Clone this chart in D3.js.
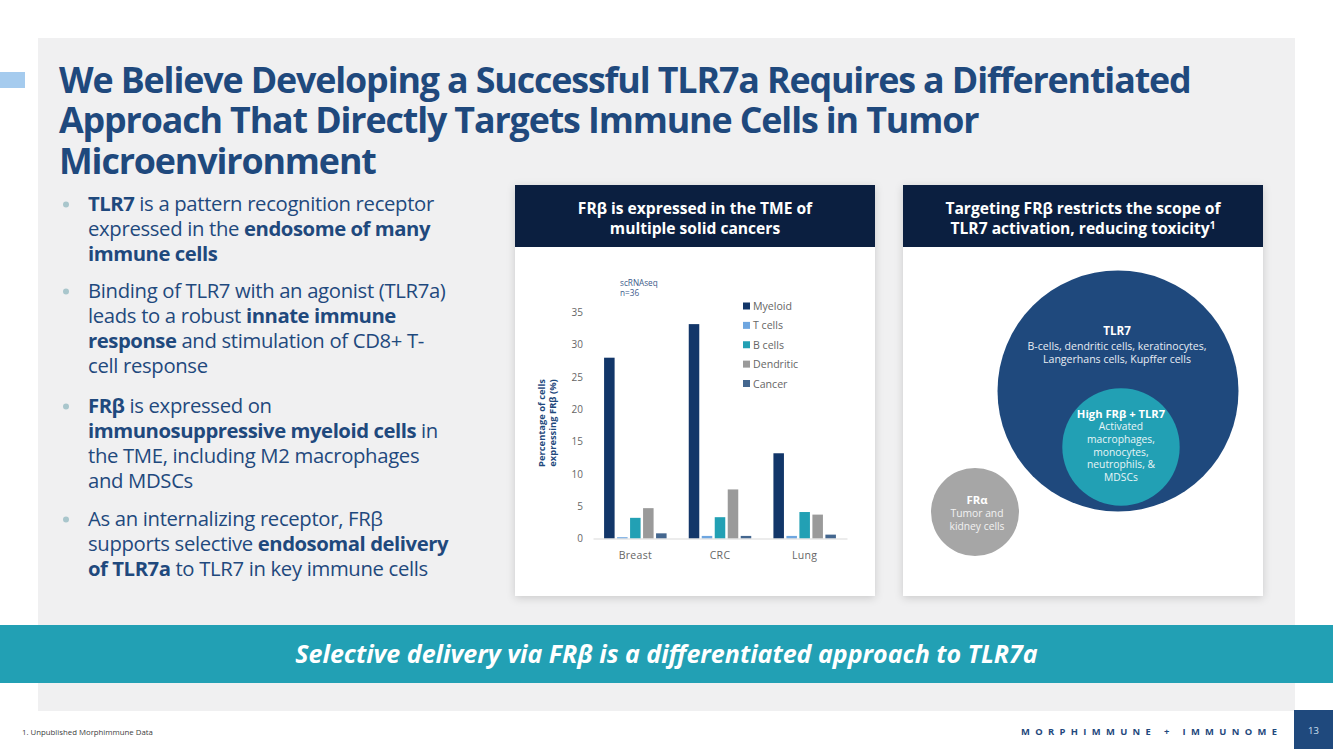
<!DOCTYPE html>
<html>
<head>
<meta charset="utf-8">
<script src="https://cdn.jsdelivr.net/npm/d3@7"></script>
<style>
html, body { margin: 0; padding: 0; background: #fff; overflow: hidden; }
text { font-family: "Open Sans", "Noto Sans", sans-serif; }
</style>
</head>
<body>
<svg id="slide" width="1333" height="749"></svg>
<script>
var categories = ["Breast", "CRC", "Lung"];
var seriesNames = ["Myeloid", "T cells", "B cells", "Dendritic", "Cancer"];
var seriesColors = ["#123669", "#6ea6e0", "#22a0b4", "#9a9a9a", "#44678f"];
var breastValues = [28, 0.2, 3.2, 4.7, 0.8];
var crcValues = [33.2, 0.4, 3.3, 7.6, 0.4];
var lungValues = [13.2, 0.4, 4.1, 3.7, 0.6];
var yTicks = [0, 5, 10, 15, 20, 25, 30, 35];

var titleLines = [
  "We Believe Developing a Successful TLR7a Requires a Differentiated",
  "Approach That Directly Targets Immune Cells in Tumor",
  "Microenvironment"
];

// each line is a list of [text, bold]
var bullets = [
  { y: 204, lines: [
    [["TLR7", 1], [" is a pattern recognition receptor", 0]],
    [["expressed in the ", 0], ["endosome of many", 1]],
    [["immune cells", 1]]
  ]},
  { y: 291, lines: [
    [["Binding of TLR7 with an agonist (TLR7a)", 0]],
    [["leads to a robust ", 0], ["innate immune", 1]],
    [["response", 1], [" and stimulation of CD8+ T-", 0]],
    [["cell response", 0]]
  ]},
  { y: 406, lines: [
    [["FRβ", 1], [" is expressed on", 0]],
    [["immunosuppressive myeloid cells", 1], [" in", 0]],
    [["the TME, including M2 macrophages", 0]],
    [["and MDSCs", 0]]
  ]},
  { y: 519, lines: [
    [["As an internalizing receptor, FRβ", 0]],
    [["supports selective ", 0], ["endosomal delivery", 1]],
    [["of TLR7a", 1], [" to TLR7 in key immune cells", 0]]
  ]}
];

var svg = d3.select("#slide");
var navy = "#1f497d";
var teal = "#22a0b4";
var headerDark = "#0b1f40";

var defs = svg.append("defs");
var shadow = defs.append("filter").attr("id", "shadow")
  .attr("x", "-5%").attr("y", "-5%").attr("width", "110%").attr("height", "110%");
shadow.append("feDropShadow").attr("dx", 0).attr("dy", 2).attr("stdDeviation", 4)
  .attr("flood-color", "#000").attr("flood-opacity", 0.16);

function rect(x, y, w, h, fill) {
  return svg.append("rect").attr("x", x).attr("y", y).attr("width", w).attr("height", h).attr("fill", fill);
}

function label(parent, x, y, str, size, fill, weight, anchor) {
  return parent.append("text").attr("x", x).attr("y", y).text(str)
    .attr("font-size", size).attr("fill", fill)
    .attr("font-weight", weight || 400)
    .attr("text-anchor", anchor || "start");
}

// page furniture
rect(38, 38, 1257, 673, "#f0f0f1");
rect(0, 72, 25, 16, "#a5cbee");
rect(0, 625, 1333, 58, teal);
rect(1294, 710, 39, 39, navy);

// title
titleLines.forEach(function(line, i) {
  label(svg, 59, 92.5 + i * 40.5, line, 35.8, navy, 700).attr("letter-spacing", -1.13);
});

// bullets
bullets.forEach(function(b) {
  svg.append("circle").attr("cx", 66).attr("cy", b.y + 0.5).attr("r", 3).attr("fill", "#a9c6cc");
  b.lines.forEach(function(runs, i) {
    var t = svg.append("text").attr("x", 88).attr("y", b.y + 7 + i * 25)
      .attr("font-size", 20.3).attr("fill", navy);
    runs.forEach(function(r) {
      t.append("tspan").text(r[0]).attr("font-weight", r[1] ? 700 : 400)
        .attr("letter-spacing", r[1] ? -0.45 : -0.33);
    });
  });
});

// panels
[[515, ["FRβ is expressed in the TME of", "multiple solid cancers"]],
 [903, ["Targeting FRβ restricts the scope of", "TLR7 activation, reducing toxicity"], "1"]].forEach(function(p) {
  rect(p[0], 185, 360, 411, "#fff").attr("filter", "url(#shadow)");
  rect(p[0], 185, 360, 62, headerDark);
  p[1].forEach(function(line, i) {
    var t = label(svg, p[0] + 180, 213.5 + i * 20, line, 15.6, "#fff", 700, "middle");
    if (p[2] && i == 1) {
      t.append("tspan").text(p[2]).attr("font-size", 10).attr("dy", -5);
    }
  });
});

// bar chart
var x0 = d3.scaleBand().domain(categories).range([593, 847]);
var x1 = d3.scaleBand().domain(seriesNames).range([0, x0.bandwidth()])
  .paddingInner(0.19).paddingOuter(0.853);
var y = d3.scaleLinear().domain([0, 35]).range([538.5, 312.5]);

var rows = categories.map(function(c, i) {
  return { category: c, values: [breastValues, crcValues, lungValues][i] };
});

var groups = svg.append("g").selectAll("g").data(rows).enter().append("g")
  .attr("transform", function(d) { return "translate(" + x0(d.category) + ",0)"; });
groups.selectAll("rect")
  .data(function(d) {
    return d.values.map(function(v, i) { return { name: seriesNames[i], value: v, color: seriesColors[i] }; });
  })
  .enter().append("rect")
  .attr("x", function(d) { return x1(d.name); })
  .attr("y", function(d) { return y(d.value); })
  .attr("width", x1.bandwidth())
  .attr("height", function(d) { return y(0) - y(d.value); })
  .attr("fill", function(d) { return d.color; });

var xAxis = svg.append("g").attr("transform", "translate(0," + y(0) + ")")
  .call(d3.axisBottom(x0).tickSize(0).tickPadding(13));
xAxis.select(".domain").attr("stroke", "#d9d9d9");
xAxis.selectAll("text").attr("font-size", 10.5).attr("fill", "#666")
  .attr("font-family", "'Open Sans'").attr("letter-spacing", 0.3);

var yAxis = svg.append("g").attr("transform", "translate(586,0)")
  .call(d3.axisLeft(y).tickValues(yTicks).tickSize(0).tickPadding(3));
yAxis.select(".domain").remove();
yAxis.selectAll("text").attr("font-size", 10).attr("fill", "#666").attr("font-family", "'Open Sans'");

// axis title
var yTitle = svg.append("g").attr("transform", "translate(542,423) rotate(-90)")
  .attr("text-anchor", "middle");
label(yTitle, 0, 3, "Percentage of cells", 9.4, navy, 700, "middle");
label(yTitle, 0, 14, "expressing FRβ (%)", 9.4, navy, 700, "middle");

label(svg, 620, 286, "scRNAseq", 8.2, "#3c5a8a");
label(svg, 620, 296, "n=36", 8.2, "#3c5a8a");

// legend
var legendY = d3.scalePoint().domain(seriesNames).range([306, 383.5]);
var legend = svg.append("g").selectAll("g").data(seriesNames).enter().append("g")
  .attr("transform", function(d) { return "translate(743," + legendY(d) + ")"; });
legend.append("rect").attr("y", -3.5).attr("width", 7).attr("height", 7)
  .attr("fill", function(d, i) { return seriesColors[i]; });
legend.append("text").attr("x", 10).attr("y", 4).text(function(d) { return d; })
  .attr("font-size", 10.6).attr("fill", "#666");

// venn circles
svg.append("circle").attr("cx", 1118).attr("cy", 391).attr("r", 120.5).attr("fill", navy);
svg.append("circle").attr("cx", 1121).attr("cy", 447).attr("r", 58.7).attr("fill", teal);
svg.append("circle").attr("cx", 975).attr("cy", 512).attr("r", 44).attr("fill", "#a6a6a6");

label(svg, 1117, 335, "TLR7", 11.6, "#fff", 700, "middle");
label(svg, 1117, 349.5, "B-cells, dendritic cells, keratinocytes,", 10.55, "#e8edf4", 400, "middle");
label(svg, 1117, 362.5, "Langerhans cells, Kupffer cells", 10.55, "#e8edf4", 400, "middle");

label(svg, 1121, 418, "High FRβ + TLR7", 11.2, "#fff", 700, "middle");
["Activated", "macrophages,", "monocytes,", "neutrophils, &", "MDSCs"].forEach(function(s, i) {
  label(svg, 1121, 430 + i * 12.8, s, 10.3, "#e8f5f7", 400, "middle");
});

label(svg, 977, 503.5, "FRα", 11.4, "#fff", 700, "middle");
label(svg, 977, 517, "Tumor and", 10.3, "#f2f2f2", 400, "middle");
label(svg, 977, 530, "kidney cells", 10.3, "#f2f2f2", 400, "middle");

// banner and footer
label(svg, 666.5, 662.5, "Selective delivery via FRβ is a differentiated approach to TLR7a", 25, "#fff", 700, "middle")
  .attr("font-style", "italic");
label(svg, 22, 735, "1. Unpublished Morphimmune Data", 7.8, "#404040");
label(svg, 1021, 735, "MORPHIMMUNE + IMMUNOME", 9.4, navy, 700).attr("letter-spacing", 5.35);
label(svg, 1313.5, 734, "13", 9.5, "#cfe0f2", 400, "middle");
</script>
</body>
</html>
